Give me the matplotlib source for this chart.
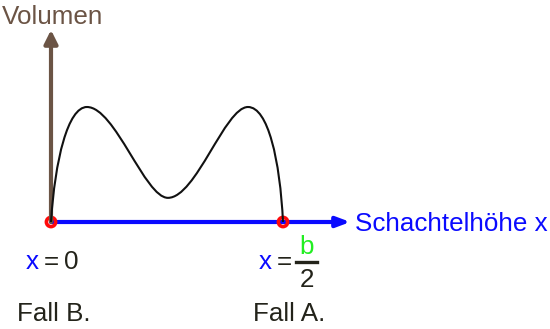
import matplotlib
matplotlib.use('Agg')
import matplotlib.pyplot as plt
from matplotlib.path import Path
from matplotlib.patches import PathPatch

plt.rcParams['font.family'] = ['Liberation Sans', 'DejaVu Sans']

# x in units of b/2 (so x = 1 is b/2), volume in units of the peak
# curve as cubic bezier segments: start, then (c1, c2, end) per segment
curve_x = [0.0,
           0.017, 0.073, 0.155,
           0.276, 0.405, 0.504,
           0.625, 0.750, 0.849,
           0.935, 0.987, 1.0]
curve_y = [0.0,
           0.54, 1.0, 1.0,
           1.0, 0.21, 0.21,
           0.21, 1.0, 1.0,
           1.0, 0.54, 0.0]
special_x = [0.0, 1.0]
special_y = [0.0, 0.0]
axis_x_end = 1.29
axis_y_end = 1.67

brown = '#6b5445'
blue = '#0a0aff'
dark = '#23231a'

W, H = 550, 329
fig = plt.figure(figsize=(W / 100, H / 100), dpi=100)
ax = fig.add_axes([0, 0, 1, 1])
# 232 px per unit in x, 115 px per unit in y, origin at pixel (51, 222)
ax.set_xlim(-51 / 232, (W - 51) / 232)
ax.set_ylim(-(H - 222) / 115, 222 / 115)
ax.axis('off')


def px(x, y):
    return x / W, 1 - y / H


# blue x axis (under the markers)
ax.annotate('', xy=(axis_x_end, 0), xytext=(0, 0),
            arrowprops=dict(arrowstyle='-|>,head_length=0.8,head_width=0.3',
                            color=blue, lw=3, shrinkA=0, shrinkB=0,
                            mutation_scale=10), zorder=1)

ax.scatter(special_x, special_y, s=44, facecolor='none', edgecolor='#ff0a0a',
           linewidth=2.6, zorder=2)

# brown volume axis
ax.annotate('', xy=(0, axis_y_end), xytext=(0, 0),
            arrowprops=dict(arrowstyle='-|>,head_length=0.8,head_width=0.4',
                            color=brown, lw=3, shrinkA=0, shrinkB=0,
                            mutation_scale=10), zorder=3)

codes = [Path.MOVETO] + [Path.CURVE4] * (len(curve_x) - 1)
curve = Path(list(zip(curve_x, curve_y)), codes)
ax.add_patch(PathPatch(curve, facecolor='none', edgecolor='#111111', lw=1.5, zorder=4))

fs = 18.7
fig.text(*px(2, 24), 'Volumen', color=brown, fontsize=fs, va='baseline')
fig.text(*px(355, 231), 'Schachtelhöhe x', color=blue, fontsize=fs, va='baseline')

# x = 0
fig.text(*px(26, 269), 'x', color=blue, fontsize=fs, va='baseline')
fig.text(*px(44, 269), '=', color=dark, fontsize=fs, va='baseline')
fig.text(*px(64, 269), '0', color=dark, fontsize=fs, va='baseline')

# x = b/2
fig.text(*px(259, 269), 'x', color=blue, fontsize=fs, va='baseline')
fig.text(*px(277, 269), '=', color=dark, fontsize=fs, va='baseline')
fig.text(*px(307, 254), 'b', color='#22ee22', fontsize=fs, va='baseline', ha='center')
fig.text(*px(307, 287), '2', color=dark, fontsize=fs, va='baseline', ha='center')
fig.add_artist(plt.Line2D([296 / W, 317 / W], [1 - 261.5 / H] * 2, color=dark, lw=2.4))

fig.text(*px(17, 321), 'Fall B.', color=dark, fontsize=fs, va='baseline')
fig.text(*px(253, 321), 'Fall A.', color=dark, fontsize=fs, va='baseline')

fig.savefig('out.png', dpi=100)
